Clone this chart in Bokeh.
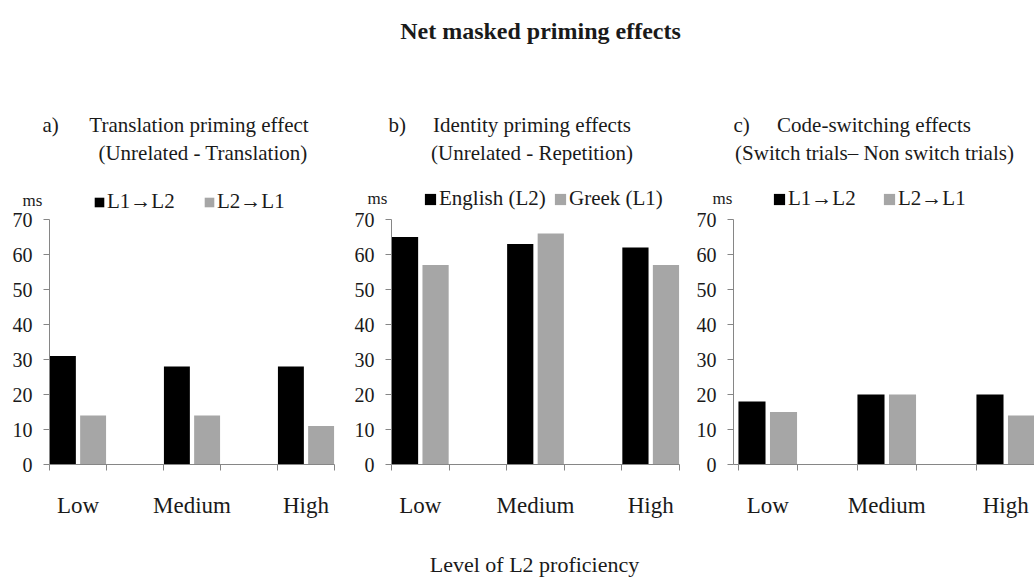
from bokeh.plotting import figure
from bokeh.models import Range1d, LinearAxis, FixedTicker, Label, Legend, LegendItem
from bokeh.layouts import row
from bokeh.embed import file_html
from bokeh.resources import INLINE

# ---- data -----------------------------------------------------------------
categories = ["Low", "Medium", "High"]
y_ticks = [0, 10, 20, 30, 40, 50, 60, 70]

translation_l1_l2 = [31, 28, 28]
translation_l2_l1 = [14, 14, 11]

identity_english = [65, 63, 62]
identity_greek = [57, 66, 57]

switch_l1_l2 = [18, 20, 20]
switch_l2_l1 = [15, 20, 14]

series_names_a = ["L1→L2", "L2→L1"]
series_names_b = ["English (L2)", "Greek (L1)"]
series_names_c = ["L1→L2", "L2→L1"]

main_title = "Net masked priming effects"
x_title = "Level of L2 proficiency"
unit_label = "ms"

# ---- style ----------------------------------------------------------------
SERIF = "Liberation Serif"
BLACK = "#000000"
GREY = "#a6a6a6"
AXIS = "#868686"
TEXT = "#1a1a1a"

PAGE_H = 578
ZERO_ROW = 464          # pixel row of the value axis zero
PX_PER_MS = 3.5
BAR_W = 0.455


def build_panel(fig_left, fig_right, axis_x, zero_x, px_per_slot,
                first, second, names, glyph, legend_x, legend_top):
    # the frame fills the whole figure; axes are pinned inside it
    p = figure(width=fig_right - fig_left, height=PAGE_H,
               x_range=Range1d((fig_left - zero_x) / px_per_slot,
                               (fig_right - zero_x) / px_per_slot),
               y_range=Range1d(-(PAGE_H - ZERO_ROW) / PX_PER_MS,
                               ZERO_ROW / PX_PER_MS),
               x_axis_type=None, y_axis_type=None,
               min_border_left=0, min_border_right=0,
               min_border_top=0, min_border_bottom=0,
               output_backend="svg", toolbar_location=None, title=None)
    p.outline_line_color = None
    p.background_fill_color = "white"
    p.border_fill_color = "white"

    axis_at = (axis_x - zero_x) / px_per_slot
    n_slots = 2 * len(categories)

    # two slots per category: dark bar in the left half, grey in the right
    centers = [2 * i + 0.5 for i in range(len(categories))]
    x_dark = [2 * i + 0.235 for i in range(len(categories))]
    x_grey = [2 * i + 0.765 for i in range(len(categories))]

    r1 = p.vbar(x=x_dark, top=first, width=BAR_W, bottom=0,
                fill_color=BLACK, line_color=None)
    r2 = p.vbar(x=x_grey, top=second, width=BAR_W, bottom=0,
                fill_color=GREY, line_color=None)

    ya = LinearAxis(ticker=FixedTicker(ticks=y_ticks), bounds=(0, 70),
                    fixed_location=axis_at,
                    axis_line_color=AXIS, major_tick_line_color=AXIS,
                    major_tick_out=6, major_tick_in=0,
                    minor_tick_line_color=None,
                    major_label_text_font=SERIF,
                    major_label_text_font_size="20px",
                    major_label_text_color=TEXT,
                    major_label_standoff=11)
    p.add_layout(ya, "left")

    xa = LinearAxis(ticker=FixedTicker(ticks=centers,
                                       minor_ticks=list(range(0, n_slots))),
                    bounds=(axis_at, n_slots - 1),
                    fixed_location=0,
                    major_label_overrides={c: n for c, n in zip(centers, categories)},
                    axis_line_color=AXIS,
                    major_tick_line_color=None, major_tick_out=0, major_tick_in=0,
                    minor_tick_line_color=AXIS, minor_tick_out=6, minor_tick_in=0,
                    major_label_text_font=SERIF,
                    major_label_text_font_size="23px",
                    major_label_text_color=TEXT,
                    major_label_standoff=22)
    p.add_layout(xa, "below")

    item_h = 24
    for r, name, lx in zip([r1, r2], names, legend_x):
        lg = Legend(items=[LegendItem(label=name, renderers=[r])],
                    location=(lx - fig_left, PAGE_H - (legend_top + item_h)),
                    orientation="horizontal", glyph_width=glyph,
                    glyph_height=glyph, label_standoff=2, padding=0, margin=0,
                    spacing=0, label_height=glyph,
                    background_fill_alpha=0, border_line_color=None,
                    label_text_font=SERIF, label_text_font_size="21px",
                    label_text_color=TEXT)
        p.add_layout(lg)

    def text(px, py, s, size, align="left", style="normal"):
        p.add_layout(Label(x=(px - zero_x) / px_per_slot,
                           y=(ZERO_ROW - py) / PX_PER_MS,
                           text=s, text_font=SERIF, text_font_size=f"{size}px",
                           text_font_style=style, text_align=align,
                           text_baseline="alphabetic", text_color=TEXT))
    return p, text


pa, ta = build_panel(0, 345, 49, 49, 57.0,
                     translation_l1_l2, translation_l2_l1, series_names_a,
                     12, [93, 203], 190)
ta(22, 200, unit_label, 17)
ta(42, 124, "a)", 21)
ta(198.5, 124, "Translation priming effect", 21, "center")
ta(202.5, 152, "(Unrelated - Translation)", 21, "center")

pb, tb = build_panel(345, 690, 391, 391, 57.6,
                     identity_english, identity_greek, series_names_b,
                     14, [423, 553], 187)
tb(367, 198, unit_label, 17)
tb(388, 124, "b)", 21)
tb(531.5, 124, "Identity priming effects", 21, "center")
tb(531.5, 152, "(Unrelated - Repetition)", 21, "center")
tb(540, 30, main_title, 24, "center", "bold")
tb(534, 564, x_title, 22, "center")

pc, tc = build_panel(690, 1034, 733, 737.5, 59.5,
                     switch_l1_l2, switch_l2_l1, series_names_c,
                     14, [772, 882], 187)
tc(712, 198, unit_label, 17)
tc(733, 124, "c)", 21)
tc(873.5, 124, "Code-switching effects", 21, "center")
tc(874, 152, "(Switch trials\u2013 Non switch trials)", 21, "center")

layout = row(pa, pb, pc)
open("out.html", "w").write(file_html(layout, INLINE))
